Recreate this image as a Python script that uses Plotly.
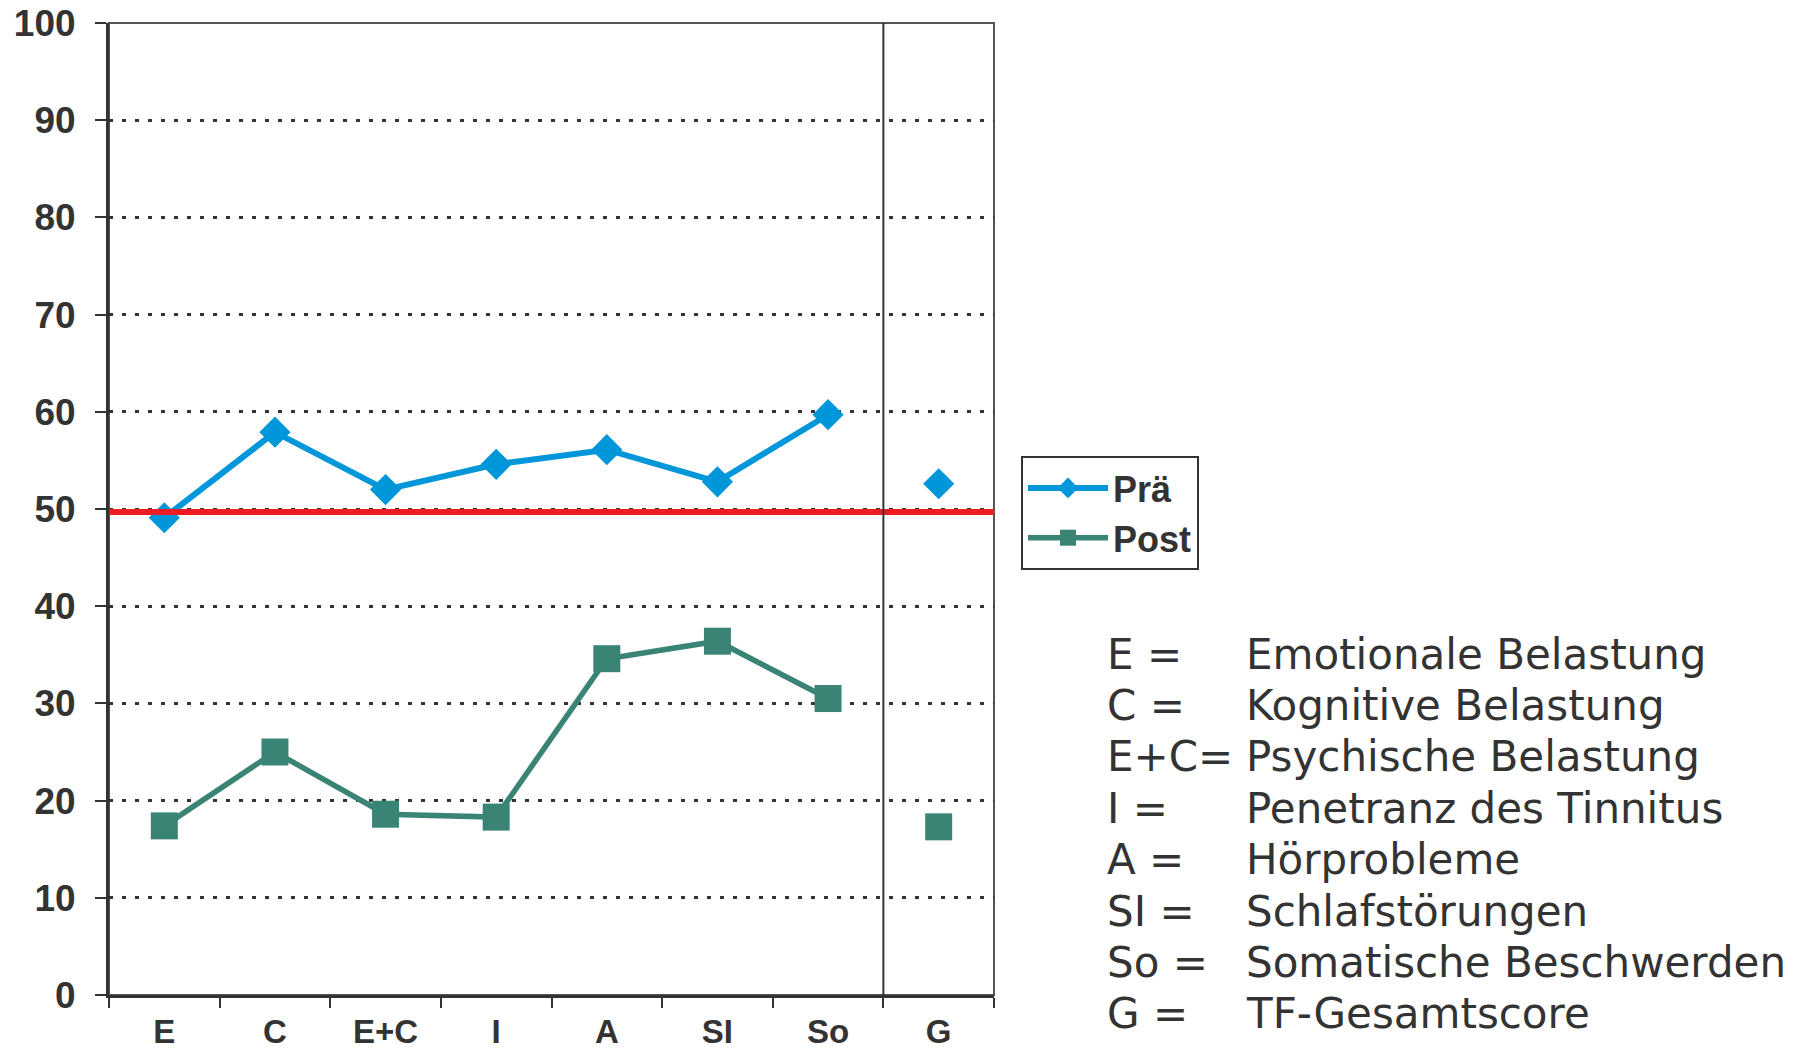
import plotly.graph_objects as go

categories = ["E", "C", "E+C", "I", "A", "SI", "So"]
total_category = ["G"]
pre_values = [49.1, 57.9, 52.0, 54.6, 56.1, 52.8, 59.7]
post_values = [17.4, 25.0, 18.6, 18.3, 34.6, 36.4, 30.5]
pre_total = [52.6]
post_total = [17.3]
reference_value = 49.7
y_ticks = [0, 10, 20, 30, 40, 50, 60, 70, 80, 90, 100]
legend_abbrevs = ["E =", "C =", "E+C=", "I =", "A =", "SI =", "So =", "G ="]
legend_texts = ["Emotionale Belastung", "Kognitive Belastung", "Psychische Belastung",
                "Penetranz des Tinnitus", "Hörprobleme", "Schlafstörungen",
                "Somatische Beschwerden", "TF-Gesamtscore"]

BLUE = "#0096DA"
TEAL = "#3A8475"
RED = "#ED1C24"
DARK = "#333333"

OFF = 8  # page body margin
W, H = 1805 - 2 * OFF, 1061 - 2 * OFF
L, R, T, B = 109 - OFF, 994 - OFF, 23 - OFF, 995 - OFF

fig = go.Figure()
fig.add_trace(go.Scatter(x=categories, y=pre_values, mode="lines+markers", name="Prä",
                         line=dict(color=BLUE, width=6),
                         marker=dict(symbol="diamond", size=24, color=BLUE), legendgroup="pre"))
fig.add_trace(go.Scatter(x=categories, y=post_values, mode="lines+markers", name="Post",
                         line=dict(color=TEAL, width=5.5),
                         marker=dict(symbol="square", size=27, color=TEAL), legendgroup="post"))
fig.add_trace(go.Scatter(x=total_category, y=pre_total, mode="markers", name="Prä",
                         marker=dict(symbol="diamond", size=24, color=BLUE),
                         showlegend=False, legendgroup="pre"))
fig.add_trace(go.Scatter(x=total_category, y=post_total, mode="markers", name="Post",
                         marker=dict(symbol="square", size=27, color=TEAL),
                         showlegend=False, legendgroup="post"))

# reference line
fig.add_shape(type="line", xref="paper", yref="y", x0=0, x1=1,
              y0=reference_value, y1=reference_value,
              line=dict(color=RED, width=6), layer="above")
# separator before total score
fig.add_shape(type="line", xref="x", yref="paper", x0=6.5, x1=6.5, y0=0, y1=1,
              line=dict(color=DARK, width=2), layer="above")
# right / top border
fig.add_shape(type="rect", xref="paper", yref="paper", x0=0, x1=1, y0=0, y1=1,
              line=dict(color="#555555", width=2), layer="below")

# explanatory text
line_px0 = 654 - OFF
line_step = 51.4
for i, (a, t) in enumerate(zip(legend_abbrevs, legend_texts)):
    py = line_px0 + i * line_step
    yp = (B - py) / (B - T)
    fig.add_annotation(text=a, xref="paper", yref="paper", x=(1105 - OFF - L) / (R - L), y=yp,
                       xanchor="left", yanchor="middle", showarrow=False,
                       font=dict(family="DejaVu Sans", size=42, color=DARK))
    fig.add_annotation(text=t, xref="paper", yref="paper", x=(1244 - OFF - L) / (R - L), y=yp,
                       xanchor="left", yanchor="middle", showarrow=False,
                       font=dict(family="DejaVu Sans", size=42, color=DARK))

fig.update_layout(
    width=W, height=H,
    margin=dict(l=L, r=W - R, t=T, b=H - B, pad=0, autoexpand=False),
    paper_bgcolor="white", plot_bgcolor="white",
    showlegend=True,
    legend=dict(x=(1021 - OFF - L) / (R - L), y=(B - (456 - OFF)) / (B - T),
                xanchor="left", yanchor="top",
                bordercolor=DARK, borderwidth=2, bgcolor="white",
                font=dict(family="Liberation Sans", size=36, color=DARK, weight="bold"),
                tracegroupgap=0, itemsizing="trace", itemwidth=80),
    xaxis=dict(type="category", categoryorder="array", categoryarray=categories + total_category,
               range=[-0.5, 7.5], tickson="boundaries", ticks="outside", ticklen=10,
               tickwidth=2, tickcolor=DARK, showline=True, linecolor=DARK, linewidth=3,
               showgrid=False, ticklabelstandoff=5, automargin=False,
               ticklabeloverflow="allow",
               tickfont=dict(family="Liberation Sans", size=33, color=DARK, weight="bold")),
    yaxis=dict(range=[0, 100], tickvals=y_ticks, ticks="outside", ticklen=11, tickwidth=2,
               tickcolor=DARK, showline=True, linecolor=DARK, linewidth=3,
               showgrid=True, gridcolor=DARK, griddash="4px,9px", gridwidth=3, zeroline=False,
               ticklabelstandoff=12, automargin=False, ticklabeloverflow="allow",
               tickfont=dict(family="Liberation Sans", size=37, color=DARK, weight="bold")),
)

fig.write_html("out.html")
